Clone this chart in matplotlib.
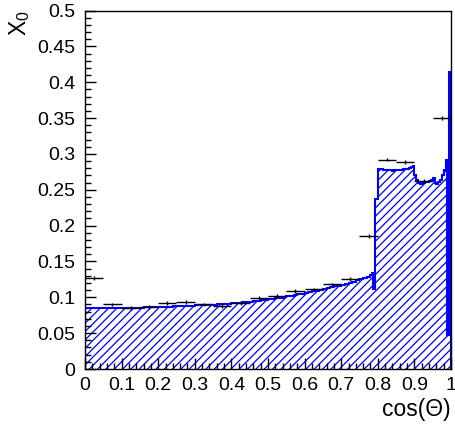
import numpy as np
import matplotlib
matplotlib.use("Agg")
import matplotlib.pyplot as plt
from matplotlib.ticker import MultipleLocator

plt.rcParams["font.family"] = ["Liberation Sans", "DejaVu Sans"]
plt.rcParams["mathtext.fontset"] = "custom"
plt.rcParams["mathtext.rm"] = "Liberation Sans"
plt.rcParams["mathtext.it"] = "Liberation Sans:italic"
plt.rcParams["hatch.linewidth"] = 0.9

# Measured material budget: 0.05-wide bins in cos(theta)
meas_lo = [0.00, 0.05, 0.10, 0.15, 0.20, 0.25, 0.30, 0.35, 0.40, 0.45,
           0.50, 0.55, 0.60, 0.65, 0.70, 0.75, 0.80, 0.85, 0.90, 0.95]
meas_x0 = [0.127, 0.090, 0.0854, 0.0864, 0.0924, 0.0933, 0.0900, 0.0880, 0.0924, 0.0993,
           0.102, 0.109, 0.111, 0.118, 0.1258, 0.1857, 0.292, 0.289, 0.262, 0.350]
meas_err = [0.0025] * 20

# Simulated material budget, fine binning
sim_edges_body = np.round(np.arange(0.0, 0.78 + 1e-9, 0.01), 4)
sim_x0_body = [
    0.0845, 0.0846, 0.0847, 0.0847, 0.0848, 0.0849, 0.0849, 0.0850, 0.0851, 0.0851,
    0.0852, 0.0853, 0.0854, 0.0855, 0.0856, 0.0857, 0.0858, 0.0859, 0.0861, 0.0863,
    0.0865, 0.0867, 0.0869, 0.0871, 0.0873, 0.0875, 0.0877, 0.0879, 0.0881, 0.0883,
    0.0886, 0.0888, 0.0891, 0.0893, 0.0896, 0.0899, 0.0902, 0.0905, 0.0908, 0.0912,
    0.0915, 0.0919, 0.0923, 0.0928, 0.0933, 0.0938, 0.0943, 0.0949, 0.0956, 0.0963,
    0.0970, 0.0978, 0.0986, 0.0994, 0.1003, 0.1012, 0.1021, 0.1031, 0.1041, 0.1051,
    0.1061, 0.1071, 0.1082, 0.1093, 0.1104, 0.1115, 0.1127, 0.1139, 0.1151, 0.1164,
    0.1177, 0.1191, 0.1205, 0.1220, 0.1236, 0.1252, 0.1269, 0.1287,
]
sim_edges_tail = np.concatenate([[0.785, 0.788, 0.791],
                                 np.round(np.arange(0.80, 1.0 + 1e-9, 0.005), 4)])
sim_x0_tail = [
    0.1305, 0.134, 0.112, 0.237,
    0.2795, 0.2790, 0.2785, 0.2780, 0.2776, 0.2773, 0.2770, 0.2769, 0.2768, 0.2769,
    0.2770, 0.2773, 0.2776, 0.2780, 0.2785, 0.2790, 0.2796, 0.2805, 0.2815, 0.2835,
    0.2700, 0.2640, 0.2600, 0.2585, 0.2590, 0.2595, 0.2605, 0.2615, 0.2625, 0.2640,
    0.2660, 0.2600, 0.2585, 0.2610, 0.2640, 0.2700, 0.2780, 0.2920, 0.047, 0.414,
]
sim_edges = np.concatenate([sim_edges_body, sim_edges_tail])
sim_x0 = np.array(sim_x0_body + sim_x0_tail)

x_tick_labels = ["0", "0.1", "0.2", "0.3", "0.4", "0.5", "0.6", "0.7", "0.8", "0.9", "1"]
y_tick_labels = ["0", "0.05", "0.1", "0.15", "0.2", "0.25", "0.3", "0.35", "0.4", "0.45", "0.5"]

fig = plt.figure(figsize=(4.56, 4.26), dpi=100)
ax = fig.add_axes([85 / 456, 57 / 426, 366 / 456, 358.5 / 426])

blue = (0, 0, 1)
ax.stairs(sim_x0, sim_edges, baseline=0, fill=True, facecolor="none",
          edgecolor=blue, hatch="////", linewidth=0)
ax.stairs(sim_x0, sim_edges, baseline=0, fill=False, color=blue, linewidth=1.5)

bin_w = 0.05
centers = np.array(meas_lo) + bin_w / 2
ax.errorbar(centers, meas_x0, xerr=bin_w / 2, yerr=meas_err, fmt="none",
            ecolor="black", elinewidth=1.0, capsize=0)

ax.set_xlim(0, 1)
ax.set_ylim(0, 0.5)
ax.set_xticks(np.round(np.arange(0, 1.01, 0.1), 1))
ax.set_xticklabels(x_tick_labels)
ax.set_yticks(np.round(np.arange(0, 0.501, 0.05), 2))
ax.set_yticklabels(y_tick_labels)
ax.xaxis.set_minor_locator(MultipleLocator(0.02))
ax.yaxis.set_minor_locator(MultipleLocator(0.01))
ax.tick_params(which="both", direction="in", top=False, right=False, labelsize=14, width=1)
ax.tick_params(which="major", length=8)
ax.tick_params(which="minor", length=4)
ax.tick_params(axis="x", pad=6)
ax.tick_params(axis="y", pad=7)
for sp in ax.spines.values():
    sp.set_linewidth(1.0)

ax.set_xlabel("cos(Θ)", fontsize=16.5, loc="right")
ax.set_ylabel(r"X$_{\mathrm{0}}$", fontsize=16.5, loc="top")
ax.xaxis.set_label_coords(1.0, -0.08)
ax.yaxis.set_label_coords(-0.145, 1.0)

fig.savefig("out.png", dpi=100)
